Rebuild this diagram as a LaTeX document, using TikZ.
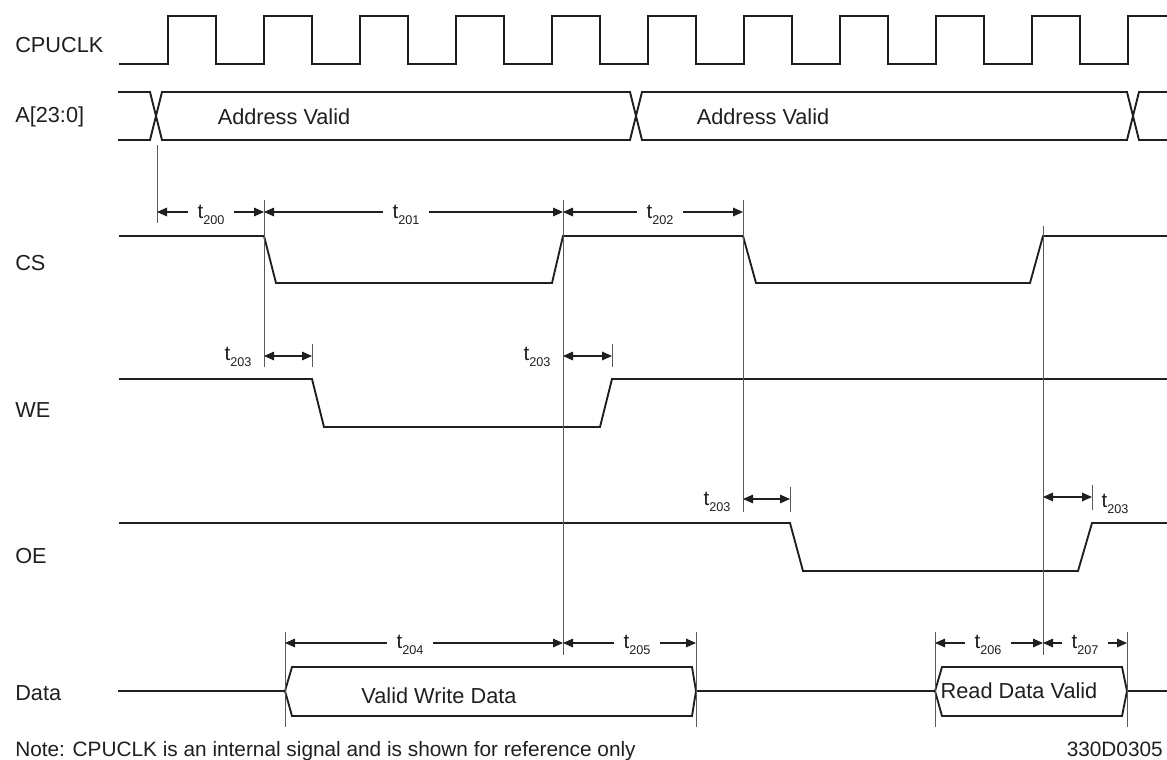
\documentclass[tikz,border=0pt]{standalone}
\usepackage{fontspec}
\setmainfont{Liberation Sans}
\usetikzlibrary{arrows.meta}
\newcommand\tsub[1]{t\raisebox{-4.5pt}{\fontsize{9.5}{10}\selectfont #1}}
\begin{document}
\begin{tikzpicture}[x=0.75pt,y=-0.75pt,
  sig/.style={line width=1.4pt, color=black!88, line join=miter},
  refl/.style={line width=0.75pt, color=black!65},
  dimarr/.style={line width=0.8pt, color=black!88, {Triangle[length=7.5pt,width=6.5pt]}-{Triangle[length=7.5pt,width=6.5pt]}},
  lbl/.style={anchor=base west, inner sep=0pt, font=\fontsize{16.3}{19}\selectfont, text=black!88},
  txt/.style={anchor=base, inner sep=0pt, font=\fontsize{16.3}{19}\selectfont, text=black!88},
  tl/.style={anchor=base, fill=white, inner xsep=7pt, inner ysep=1pt, font=\fontsize{15.5}{18}\selectfont, text=black!88},
  tn/.style={anchor=base, inner sep=0pt, font=\fontsize{15.5}{18}\selectfont, text=black!88},
]
\useasboundingbox (0,0) rectangle (1167,760);

% signal names
\node[lbl] (nclk) at (15,52) {CPUCLK};
\node[lbl] (naddr) at (15,122) {A[23:0]};
\node[lbl] (ncs) at (15,270) {CS};
\node[lbl] (nwe) at (15,417) {WE};
\node[lbl] (noe) at (15,563) {OE};
\node[lbl] (ndata) at (15,700) {Data};

% clock
\draw[sig] (119,64) foreach \k in {0,...,9} { -- ({168+96*\k},64) -- ({168+96*\k},16) -- ({216+96*\k},16) -- ({216+96*\k},64) } -- (1128,64) -- (1128,16) -- (1167,16);

% address bus
\draw[sig] (118,92) -- (150,92) -- (162,140) -- (630,140) -- (642,92) -- (1127,92) -- (1139,140) -- (1167,140);
\draw[sig] (118,140) -- (150,140) -- (162,92) -- (630,92) -- (642,140) -- (1127,140) -- (1139,92) -- (1167,92);
\node[txt] (av1) at (284,124) {Address Valid};
\node[txt] (av2) at (763,124) {Address Valid};

% CS
\draw[sig] (119,236) -- (264,236) -- (276,283) -- (552,283) -- (563,236) -- (743,236) -- (756,283) -- (1030,283) -- (1043,236) -- (1167,236);
% WE
\draw[sig] (119,379) -- (312,379) -- (324,427) -- (600,427) -- (612,379) -- (1167,379);
% OE
\draw[sig] (119,523) -- (790,523) -- (803,571) -- (1078,571) -- (1092,523) -- (1167,523);
% Data
\draw[sig] (118,691) -- (285,691);
\draw[sig] (285,691) -- (292,667) -- (692,667) -- (696,691) -- (692,716) -- (292,716) -- cycle;
\draw[sig] (696,691) -- (935,691);
\draw[sig] (935,691) -- (942,667) -- (1122,667) -- (1127,691) -- (1122,716) -- (942,716) -- cycle;
\draw[sig] (1127,691) -- (1167,691);
\node[txt] (vwd) at (439,703) {Valid Write Data};
\node[txt] (rdv) at (1019,698) {Read Data Valid};

% reference lines
\draw[refl] (157,145) -- (157,223);
\draw[refl] (264,200) -- (264,367);
\draw[refl] (563,200) -- (563,655);
\draw[refl] (743,200) -- (743,512);
\draw[refl] (1043,226) -- (1043,655);
\draw[refl] (312,344) -- (312,367);
\draw[refl] (612,344) -- (612,367);
\draw[refl] (790,487) -- (790,512);
\draw[refl] (1092,485) -- (1092,510);
\draw[refl] (285,632) -- (285,727);
\draw[refl] (696,632) -- (696,727);
\draw[refl] (935,632) -- (935,727);
\draw[refl] (1127,632) -- (1127,727);

% dimension arrows
\draw[dimarr] (157,212) -- (264,212);
\node[tl] (t200) at (211,218) {\tsub{200}};
\draw[dimarr] (264,212) -- (563,212);
\node[tl] (t201) at (406,218) {\tsub{201}};
\draw[dimarr] (563,212) -- (743,212);
\node[tl] (t202) at (660,218) {\tsub{202}};

\draw[dimarr] (264,356) -- (312,356);
\node[tn] (t203a) at (238,360) {\tsub{203}};
\draw[dimarr] (563,356) -- (612,356);
\node[tn] (t203b) at (537,360) {\tsub{203}};
\draw[dimarr] (743,499) -- (790,499);
\node[tn] (t203c) at (717,505) {\tsub{203}};
\draw[dimarr] (1043,497) -- (1092,497);
\node[tn] (t203d) at (1115,507) {\tsub{203}};

\draw[dimarr] (285,643) -- (563,643);
\node[tl] (t204) at (410,648) {\tsub{204}};
\draw[dimarr] (563,643) -- (696,643);
\node[tl] (t205) at (637,648) {\tsub{205}};
\draw[dimarr] (935,643) -- (1043,643);
\node[tl] (t206) at (988,648) {\tsub{206}};
\draw[dimarr] (1043,643) -- (1127,643);
\node[tl] (t207) at (1085,648) {\tsub{207}};

% notes
\node[lbl, font=\fontsize{15.6}{18}\selectfont] (note) at (15,756) {Note: CPUCLK is an internal signal and is shown for reference only};
\node[lbl, font=\fontsize{15.6}{18}\selectfont, anchor=base east] (code) at (1163,756) {330D0305};
\end{tikzpicture}
\end{document}
